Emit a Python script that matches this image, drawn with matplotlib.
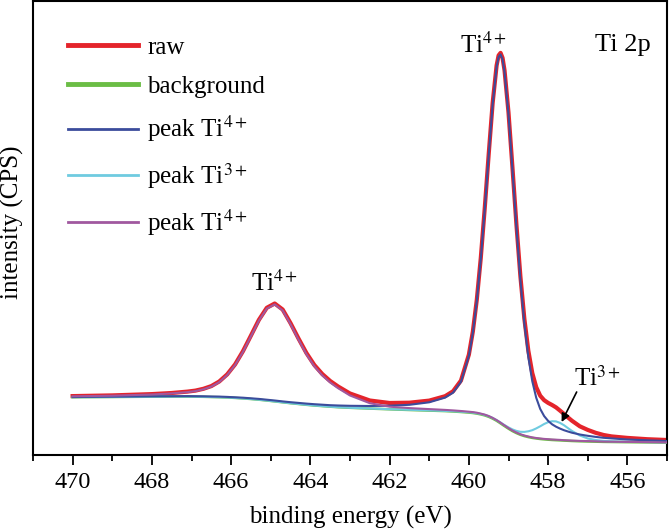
import matplotlib
matplotlib.use('Agg')
import matplotlib.pyplot as plt
from matplotlib.lines import Line2D
from matplotlib.ticker import MultipleLocator, NullLocator

plt.rcParams['font.family'] = ['Liberation Serif', 'DejaVu Serif']
plt.rcParams['mathtext.fontset'] = 'stix'

# binding energy (eV)
energy = [470.0, 469.0, 468.0, 467.5, 467.1, 466.9, 466.7, 466.5, 466.3, 466.1,
          465.9, 465.7, 465.5, 465.3, 465.1, 464.9, 464.7, 464.5, 464.3, 464.1,
          463.9, 463.7, 463.5, 463.3, 463.0, 462.5, 462.0, 461.5, 461.0, 460.6,
          460.4, 460.2, 460.0, 459.9, 459.8, 459.7, 459.6, 459.5, 459.4, 459.3,
          459.25, 459.2, 459.15, 459.1, 459.0, 458.9, 458.8, 458.7, 458.6, 458.5,
          458.4, 458.3, 458.2, 458.1, 458.0, 457.9, 457.8, 457.7, 457.6, 457.5,
          457.4, 457.2, 457.0, 456.8, 456.6, 456.4, 456.0, 455.5, 455.0]

raw = [58.9, 59.6, 60.9, 62.0, 63.4, 64.4, 66.2, 68.9, 73.5, 80.6,
       90.6, 103.9, 119.4, 135.1, 147.2, 151.5, 145.5, 131.8, 116.5, 102.0,
       90.0, 81.0, 74.0, 68.5, 61.5, 54.5, 52.0, 52.3, 54.4, 58.8,
       63.7, 74.4, 100.4, 123.4, 155.3, 196.8, 246.6, 300.7, 352.0, 389.6,
       399.6, 402.1, 397.1, 384.6, 342.4, 287.4, 230.4, 178.7, 136.3, 104.4,
       82.0, 67.8, 59.3, 54.8, 52.1, 50.0, 47.6, 44.4, 41.1, 37.6,
       34.3, 28.7, 25.1, 22.2, 20.0, 18.6, 17.1, 15.8, 15.0]

background = [57.8, 58.0, 58.3, 58.4, 58.4, 58.3, 58.2, 58.0, 57.8, 57.5,
              57.1, 56.6, 56.0, 55.3, 54.5, 53.6, 52.7, 51.8, 51.0, 50.2,
              49.5, 48.9, 48.3, 47.8, 47.2, 46.4, 45.7, 45.0, 44.4, 43.9,
              43.5, 43.0, 42.4, 42.0, 41.4, 40.6, 39.6, 38.2, 36.4, 34.2,
              32.9, 31.6, 30.2, 28.9, 26.3, 23.9, 21.9, 20.2, 18.9, 17.9,
              17.1, 16.5, 16.0, 15.6, 15.3, 15.0, 14.8, 14.6, 14.4, 14.2,
              14.0, 13.7, 13.5, 13.3, 13.1, 13.0, 12.8, 12.6, 12.4]

peak_ti4_a = [58.0, 58.3, 58.7, 58.8, 58.9, 58.8, 58.7, 58.5, 58.4, 58.1,
              57.7, 57.3, 56.7, 56.1, 55.3, 54.5, 53.6, 52.8, 52.1, 51.4,
              50.8, 50.3, 49.8, 49.5, 49.2, 49.0, 49.3, 50.2, 52.7, 57.4,
              62.3, 73.1, 99.1, 122.1, 154.0, 195.5, 245.3, 299.4, 350.6, 388.2,
              398.1, 400.6, 395.5, 382.9, 340.5, 285.1, 227.6, 175.1, 131.5, 98.0,
              73.8, 57.2, 46.1, 38.9, 34.1, 30.7, 28.3, 26.4, 24.8, 23.5,
              22.3, 20.5, 19.2, 18.1, 17.2, 16.6, 15.5, 14.7, 14.0]

peak_ti3 = [57.8, 58.0, 58.3, 58.4, 58.4, 58.3, 58.2, 58.0, 57.8, 57.5,
            57.1, 56.6, 56.0, 55.3, 54.5, 53.6, 52.7, 51.8, 51.0, 50.2,
            49.5, 48.9, 48.3, 47.8, 47.2, 46.5, 45.8, 45.2, 44.6, 44.1,
            43.8, 43.3, 42.8, 42.4, 41.8, 41.1, 40.1, 38.8, 37.1, 34.9,
            33.7, 32.5, 31.2, 29.9, 27.6, 25.6, 24.1, 23.2, 23.1, 23.7,
            24.8, 26.6, 28.7, 31.0, 32.8, 33.8, 33.6, 32.1, 29.8, 26.9,
            24.1, 19.5, 16.5, 15.0, 14.1, 13.7, 13.3, 12.9, 12.6]

peak_ti4_b = [58.7, 59.3, 60.5, 61.6, 62.9, 63.9, 65.7, 68.4, 72.9, 80.0,
              90.0, 103.2, 118.7, 134.3, 146.4, 150.6, 144.6, 130.8, 115.4, 100.8,
              88.7, 79.6, 72.5, 66.8, 59.5, 51.8, 48.3, 46.9, 45.9, 45.1,
              44.6, 44.0, 43.3, 42.9, 42.3, 41.4, 40.4, 39.0, 37.1, 34.9,
              33.6, 32.3, 30.9, 29.6, 26.9, 24.5, 22.5, 20.8, 19.5, 18.5,
              17.6, 17.0, 16.5, 16.1, 15.8, 15.5, 15.3, 15.1, 14.8, 14.6,
              14.4, 14.1, 13.9, 13.7, 13.4, 13.3, 13.1, 12.9, 12.6]

labels = ['raw', 'background', 'peak Ti$^{4+}$', 'peak Ti$^{3+}$', 'peak Ti$^{4+}$']

RED = '#e4242b'
GREEN = '#6bbd45'
BLUE = '#3b4c9c'
CYAN = '#6fcbe0'
PURPLE = '#a0589f'

fig = plt.figure(figsize=(6.7, 5.29), dpi=100)
ax = fig.add_axes([33 / 670, 74 / 529, 634 / 670, 454 / 529])

ax.plot(energy, raw, color=RED, lw=3.0, zorder=2, solid_joinstyle='round')
ax.plot(energy, background, color=GREEN, lw=1.8, zorder=3)
ax.plot(energy, peak_ti3, color=CYAN, lw=1.5, zorder=4)
ax.plot(energy, peak_ti4_a, color=BLUE, lw=1.5, zorder=5, solid_joinstyle='round')
ax.plot(energy, peak_ti4_b, color=PURPLE, lw=1.5, zorder=5)

ax.set_xlim(471, 455)
ax.set_ylim(0, 454)
ax.xaxis.set_major_locator(MultipleLocator(2))
ax.xaxis.set_minor_locator(MultipleLocator(1))
ax.yaxis.set_major_locator(NullLocator())
ax.yaxis.set_minor_locator(NullLocator())
ax.tick_params(axis='x', which='major', direction='out', length=7, width=1.3,
               labelsize=17.5, pad=5)
ax.tick_params(axis='x', which='minor', direction='out', length=4, width=1.3)
for s in ax.spines.values():
    s.set_linewidth(1.5)

ax.set_xlabel('binding energy (eV)', fontsize=18)
ax.xaxis.set_label_coords(0.5, -0.112)
ax.set_ylabel('intensity (CPS)', fontsize=18)
ax.yaxis.set_label_coords(-0.014, 0.512)

ax.text(464.9, 172, 'Ti$^{4+}$', ha='center', va='center', fontsize=18)
ax.text(459.62, 410, 'Ti$^{4+}$', ha='center', va='center', fontsize=18)
ax.text(456.12, 410, 'Ti 2p', ha='center', va='center', fontsize=19)
ax.text(456.75, 77, 'Ti$^{3+}$', ha='center', va='center', fontsize=18)
ax.annotate('', xy=(457.66, 33), xytext=(457.28, 63),
            arrowprops=dict(arrowstyle='-|>', color='black', lw=1.2,
                            mutation_scale=12, shrinkA=0, shrinkB=0))

handles = [Line2D([], [], color=RED, lw=3.5),
           Line2D([], [], color=GREEN, lw=3.5),
           Line2D([], [], color=BLUE, lw=2.0),
           Line2D([], [], color=CYAN, lw=2.0),
           Line2D([], [], color=PURPLE, lw=2.0)]
ax.legend(handles, labels, loc='upper left',
          bbox_to_anchor=(35 / 634, (455 - 36) / 454), frameon=False,
          fontsize=18, handlelength=2.8, handletextpad=0.36,
          labelspacing=0.66, borderpad=0, borderaxespad=0)

fig.savefig('out.png', dpi=100)
